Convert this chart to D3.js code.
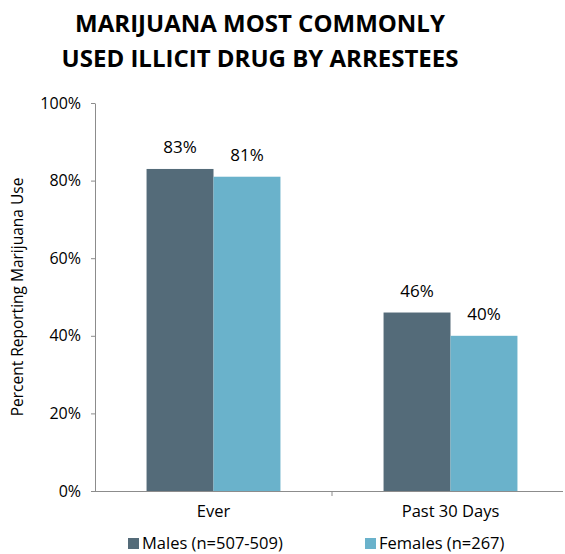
<!DOCTYPE html>
<html>
<head>
<meta charset="utf-8">
<script src="https://cdn.jsdelivr.net/npm/d3@7"></script>
<style>
  html, body { margin: 0; padding: 0; background: #fff; }
  svg { display: block; font-family: "Open Sans", "Noto Sans", sans-serif; }
</style>
</head>
<body>
<svg id="chart" width="565" height="554"></svg>
<script>
// Share of arrestees reporting marijuana use, by sex
const categories = ["Ever", "Past 30 Days"];
const seriesNames = ["Males (n=507-509)", "Females (n=267)"];
const males = [83, 46];
const females = [81, 40];
const yTicks = [0, 20, 40, 60, 80, 100];
const colors = ["#546b79", "#6ab2cb"];

const svg = d3.select("#chart");
const margin = { left: 95, right: -4, top: 103, bottom: 63 };
const W = 565, H = 554;

const x0 = d3.scaleBand().domain(categories).range([margin.left, W - margin.right]).paddingInner(0).paddingOuter(0);
const x1 = d3.scaleBand().domain(seriesNames).range([0, x0.bandwidth()]).paddingOuter(0.77).paddingInner(0);
const y = d3.scaleLinear().domain([0, 100]).range([H - margin.bottom, margin.top]);

// Title
const titleX = 260;
const title = svg.append("text")
  .attr("x", titleX).attr("text-anchor", "middle")
  .style("font-weight", "700").style("font-size", "24px").attr("fill", "#000");
title.append("tspan").attr("x", titleX).attr("y", 32).text("MARIJUANA MOST COMMONLY");
title.append("tspan").attr("x", titleX).attr("y", 67).text("USED ILLICIT DRUG BY ARRESTEES");

// Bars
const rows = categories.map((c, i) => ({ cat: c, vals: [males[i], females[i]] }));
const groups = svg.append("g").selectAll("g").data(rows).join("g")
  .attr("transform", d => `translate(${x0(d.cat)},0)`);

groups.selectAll("rect").data(d => d.vals.map((v, j) => ({ v, j })))
  .join("rect")
  .attr("x", d => x1(seriesNames[d.j]))
  .attr("width", x1.bandwidth())
  .attr("y", d => y(d.v))
  .attr("height", d => y(0) - y(d.v))
  .attr("fill", d => colors[d.j]);

groups.selectAll("text.val").data(d => d.vals.map((v, j) => ({ v, j })))
  .join("text").attr("class", "val")
  .attr("x", d => x1(seriesNames[d.j]) + x1.bandwidth() / 2)
  .attr("y", d => y(d.v) - 16)
  .attr("text-anchor", "middle")
  .style("font-size", "17px").attr("fill", "#000")
  .text(d => d.v + "%");

// Y axis
const yAxis = d3.axisLeft(y).tickValues(yTicks).tickFormat(d => d + "%").tickSize(4).tickSizeOuter(0);
const gy = svg.append("g").attr("transform", `translate(${margin.left},0)`).call(yAxis);
gy.select(".domain").attr("stroke", "#8c8c8c");
gy.selectAll(".tick line").attr("stroke", "#8c8c8c");
gy.selectAll(".tick text").attr("x", -14).style("font-size", "16px").style("font-family", "'Open Sans', sans-serif").attr("fill", "#000");

// X axis
const xAxis = d3.axisBottom(x0).tickSize(0).tickSizeOuter(0);
const gx = svg.append("g").attr("transform", `translate(0,${y(0)})`).call(xAxis);
gx.select(".domain").attr("stroke", "#8c8c8c").attr("d", `M${margin.left - 4},0.5H563`);
gx.selectAll(".tick text").attr("y", 14).style("font-size", "16.5px").style("font-family", "'Open Sans', sans-serif").attr("fill", "#000");
// boundary tick between categories
svg.append("line")
  .attr("x1", x0(categories[1])).attr("x2", x0(categories[1]))
  .attr("y1", y(0)).attr("y2", y(0) + 5)
  .attr("stroke", "#8c8c8c");

// Y axis title
svg.append("text")
  .attr("transform", `translate(23,${(y(0) + y(100)) / 2}) rotate(-90)`)
  .attr("text-anchor", "middle")
  .style("font-size", "15.5px").attr("fill", "#000")
  .text("Percent Reporting Marijuana Use");

// Legend
const legendX = [128, 365];
const lg = svg.append("g").selectAll("g").data(seriesNames).join("g")
  .attr("transform", (d, i) => `translate(${legendX[i]},538)`);
lg.append("rect").attr("width", 11).attr("height", 11).attr("fill", (d, i) => colors[i]);
lg.append("text").attr("x", 14).attr("y", 11)
  .style("font-size", "16.5px").attr("fill", "#000").text(d => d);
</script>
</body>
</html>
